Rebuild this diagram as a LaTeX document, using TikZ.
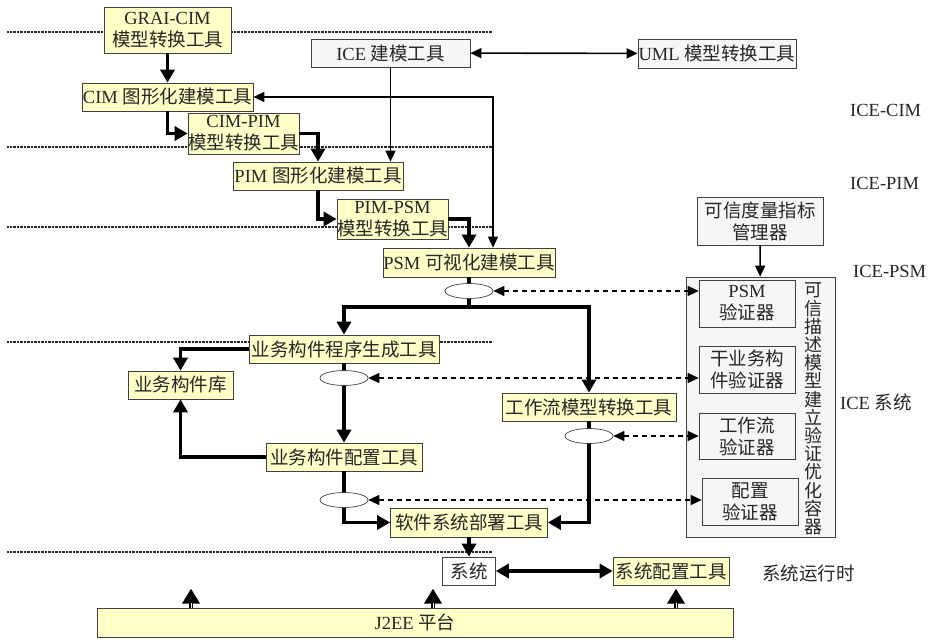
\documentclass[tikz,border=0pt]{standalone}
\usepackage{fontspec}
\setmainfont{Liberation Serif}
\newfontfamily\cjk{Noto Sans CJK SC}
\newcommand{\zh}[1]{{\cjk #1}}
\usetikzlibrary{arrows.meta, shapes.geometric}
\definecolor{toolyellow}{RGB}{255,255,200}
\definecolor{toolgray}{RGB}{246,246,246}

\begin{document}
\begin{tikzpicture}[x=1pt, y=-1pt, >={Triangle[length=11pt, width=10pt]},
    every node/.style={font=\fontsize{18.5}{22}\selectfont, text=black!85},
    tool/.style={draw=black!75, line width=0.7pt, fill=toolyellow, inner sep=0pt, align=center},
    greytool/.style={tool, fill=toolgray},
    junction/.style={ellipse, draw=black!75, line width=0.7pt, fill=white, minimum width=48pt, minimum height=15pt, inner sep=0pt},
    mainflow/.style={line width=3.3pt, >={Triangle[length=13pt, width=14pt]}},
    toollink/.style={line width=1.6pt},
    checklink/.style={line width=1.5pt, dash pattern=on 5pt off 4pt, <->},
    sepline/.style={line width=1.8pt, black!85, dash pattern=on 1pt off 0.4pt},
    platform/.style={line width=4pt, -{Triangle[length=15pt, width=17pt]},
        postaction={draw, -, white, line width=1pt, shorten >=14pt}},
    layername/.style={anchor=west, inner sep=0pt}]

    \useasboundingbox (0,0) rectangle (932,642);

    %layer separators
    \foreach \y in {32,147,227,342,552}
        \draw[sepline] (7,\y) -- (492,\y);

    %define the modelling tools
    \node[tool, minimum width=127pt, minimum height=46pt] (grai) at (167.5,30) {GRAI-CIM\\\zh{模型转换工具}};
    \node[greytool, minimum width=159pt, minimum height=28pt] (icem) at (390.5,53) {ICE \zh{建模工具}};
    \node[greytool, minimum width=158pt, minimum height=29pt] (uml) at (717,53.5) {UML \zh{模型转换工具}};
    \node[tool, minimum width=171pt, minimum height=28pt] (cimg) at (167.5,97) {CIM \zh{图形化建模工具}};
    \node[tool, minimum width=109pt, minimum height=41pt] (cimpim) at (243.5,133.5) {CIM-PIM\\\zh{模型转换工具}};
    \node[tool, minimum width=170pt, minimum height=28pt] (pimg) at (318,176) {PIM \zh{图形化建模工具}};
    \node[tool, minimum width=109pt, minimum height=40pt] (pimpsm) at (392.5,219) {PIM-PSM\\\zh{模型转换工具}};
    \node[tool, minimum width=172pt, minimum height=29pt] (psm) at (469,262.5) {PSM \zh{可视化建模工具}};

    %define the component tools
    \node[junction] (e1) at (469,291) {};
    \coordinate (fork) at (469,307);
    \node[tool, minimum width=190pt, minimum height=28pt] (ywsc) at (344,349) {\zh{业务构件程序生成工具}};
    \node[tool, minimum width=105pt, minimum height=28pt] (ywk) at (180.5,385) {\zh{业务构件库}};
    \node[junction] (e2) at (344,378) {};
    \node[tool, minimum width=156pt, minimum height=28pt] (ywpz) at (344,457) {\zh{业务构件配置工具}};
    \node[junction] (e3) at (344,500) {};
    \node[tool, minimum width=174pt, minimum height=28pt] (gzl) at (589,407) {\zh{工作流模型转换工具}};
    \node[junction] (e4) at (589,436) {};
    \node[tool, minimum width=157pt, minimum height=29pt] (rjbs) at (469,522.5) {\zh{软件系统部署工具}};

    %define the runtime
    \node[tool, fill=white, minimum width=53pt, minimum height=28pt] (xt) at (469,571) {\zh{系统}};
    \node[tool, minimum width=116pt, minimum height=28pt] (xtpz) at (671,571) {\zh{系统配置工具}};
    \node[tool, minimum width=636pt, minimum height=29pt] (j2ee) at (415,622.5) {J2EE \zh{平台}};

    %define the verification container
    \node[greytool, minimum width=126pt, minimum height=48pt] (kxd) at (760,221) {\zh{可信度量指标}\\\zh{管理器}};
    \node[greytool, minimum width=149pt, minimum height=260pt] (box) at (760.5,407) {};
    \node[greytool, minimum width=96pt, minimum height=47pt] (v1) at (747,303.5) {PSM\\\zh{验证器}};
    \node[greytool, minimum width=96pt, minimum height=47pt] (v2) at (747,369.5) {\zh{干业务构}\\\zh{件验证器}};
    \node[greytool, minimum width=96pt, minimum height=46pt] (v3) at (747,436) {\zh{工作流}\\\zh{验证器}};
    \node[greytool, minimum width=96pt, minimum height=47pt] (v4) at (750,501.5) {\zh{配置}\\\zh{验证器}};
    \node[font=\fontsize{18}{18.2}\selectfont\cjk, align=center, inner sep=0pt] (vtext) at (813,409)
        {可\\信\\描\\述\\模\\型\\建\\立\\验\\证\\优\\化\\容\\器};

    %layer names
    \node[layername] (lcim) at (850,110) {ICE-CIM};
    \node[layername] (lpim) at (850,183) {ICE-PIM};
    \node[layername] (lpsm) at (853,271) {ICE-PSM};
    \node[layername] (lsys) at (840,402) {ICE \zh{系统}};
    \node[layername] (lrun) at (762,573) {\zh{系统运行时}};

    %define the links
    \draw[mainflow, ->] (grai) -- (cimg);
    \draw[mainflow, ->] (cimg.south) |- (cimpim.west);
    \draw[mainflow, ->] (cimpim.east) -| (pimg.north);
    \draw[toollink, ->] (icem.south) -- (icem.south |- pimg.north);
    \draw[toollink, <->] (icem) -- (uml);
    \draw[toollink, <->] (cimg.east) -| ([xshift=24pt]psm.north);
    \draw[mainflow, ->] (pimg.south) |- (pimpsm.west);
    \draw[mainflow, ->] (pimpsm.east) -| (psm.north);
    \draw[mainflow] (psm) -- (e1);
    \draw[mainflow] (e1) -- (fork);
    \draw[mainflow, ->] (fork) -| (ywsc.north);
    \draw[mainflow, ->] (fork) -| (gzl.north);
    \draw[mainflow, ->] (ywsc.west) -| (ywk.north);
    \draw[mainflow] (ywsc) -- (e2);
    \draw[mainflow, ->] (e2) -- (ywpz);
    \draw[mainflow, ->] (ywpz.west) -| (ywk.south);
    \draw[mainflow] (ywpz) -- (e3);
    \draw[mainflow, ->] (e3.south) |- (rjbs.west);
    \draw[mainflow] (gzl) -- (e4);
    \draw[mainflow, ->] (e4.south) |- (rjbs.east);
    \draw[mainflow, ->] (rjbs) -- (xt);
    \draw[mainflow, <->] (xt) -- (xtpz);
    \draw[toollink, ->] (kxd) -- (box);

    %links to the verifiers
    \draw[checklink] (e1.east) -- (e1.east -| v1.west);
    \draw[checklink] (e2.east) -- (e2.east -| v2.west);
    \draw[checklink] (e4.east) -- (e4.east -| v3.west);
    \draw[checklink] (e3.east) -- (e3.east -| v4.west);

    %platform
    \draw[platform] ([xshift=-224pt]j2ee.north) -- ++(0,-19);
    \draw[platform] ([xshift=18pt]j2ee.north) -- ++(0,-19);
    \draw[platform] ([xshift=261pt]j2ee.north) -- ++(0,-19);
\end{tikzpicture}
\end{document}
